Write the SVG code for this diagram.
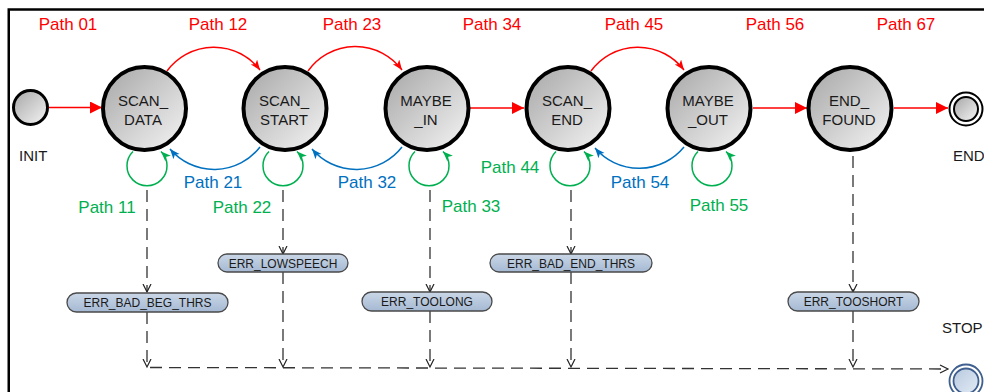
<svg xmlns="http://www.w3.org/2000/svg" width="984" height="392" viewBox="0 0 984 392">
<style>
text{font-family:"Liberation Sans",Arial,sans-serif}
.st{fill:url(#gNode);stroke:#000;stroke-width:4}
.nl{font-size:15px;fill:#1a1a1a;text-anchor:middle}
.lb{font-size:15px;fill:#1a1a1a}
.pr{font-size:17px;fill:#ff0000;text-anchor:middle}
.pb{font-size:17px;fill:#0070c0;text-anchor:middle}
.pg{font-size:17px;fill:#00b050;text-anchor:middle}
.red{fill:none;stroke:#ff0000;stroke-width:1.5}
.blue{fill:none;stroke:#0070c0;stroke-width:1.5}
.green{fill:none;stroke:#00b050;stroke-width:1.5}
.dash{fill:none;stroke:#333;stroke-width:1.3;stroke-dasharray:12 7}
.err{fill:url(#gErr);stroke:#4a4a4a;stroke-width:1.3}
.et{font-size:12px;fill:#1a1a1a;text-anchor:middle}
</style>
<defs>
<linearGradient id="gNode" x1="0" y1="0" x2="1" y2="1">
<stop offset="0" stop-color="#a6a6a6"/>
<stop offset="1" stop-color="#f5f5f5"/>
</linearGradient>
<linearGradient id="gErr" x1="0" y1="0" x2="0" y2="1">
<stop offset="0" stop-color="#cad7e7"/>
<stop offset="1" stop-color="#a5b9d3"/>
</linearGradient>
<linearGradient id="gStop" x1="0" y1="0" x2="1" y2="1">
<stop offset="0" stop-color="#b7c9df"/>
<stop offset="1" stop-color="#e3ebf5"/>
</linearGradient>
<marker id="mRedBig" markerUnits="userSpaceOnUse" markerWidth="13" markerHeight="13" refX="12" refY="6" orient="auto">
<path d="M0,0 L12,6 L0,12 z" fill="#ff0000"/>
</marker>
<marker id="mRed" markerUnits="userSpaceOnUse" markerWidth="11" markerHeight="9" refX="10" refY="4" orient="auto">
<path d="M0,0 L10,4 L0,8 L2.5,4 z" fill="#ff0000"/>
</marker>
<marker id="mBlue" markerUnits="userSpaceOnUse" markerWidth="11" markerHeight="9" refX="10" refY="4" orient="auto">
<path d="M0,0 L10,4 L0,8 L2.5,4 z" fill="#0070c0"/>
</marker>
<marker id="mGreen" markerUnits="userSpaceOnUse" markerWidth="11" markerHeight="9" refX="10" refY="4" orient="auto">
<path d="M0,0 L10,4 L0,8 L2.5,4 z" fill="#00b050"/>
</marker>
<marker id="mOpen" markerUnits="userSpaceOnUse" markerWidth="10" markerHeight="10" refX="8.5" refY="4.5" orient="auto">
<path d="M0.5,0.5 L8.5,4.5 L0.5,8.5" fill="none" stroke="#222" stroke-width="1.2"/>
</marker>
</defs>

<rect x="8.75" y="9.5" width="1000" height="400" fill="#fff" stroke="#000" stroke-width="2.5"/>

<g id="connectors">
<line class="red" x1="49" y1="107.5" x2="102" y2="107.5" marker-end="url(#mRedBig)"/>
<path class="red" d="M167,71 A58 58 0 0 1 260,70" marker-end="url(#mRed)"/>
<path class="red" d="M308,71 A58 58 0 0 1 402,70" marker-end="url(#mRed)"/>
<line class="red" x1="470" y1="108" x2="524" y2="108" marker-end="url(#mRedBig)"/>
<path class="red" d="M591,71 A58 58 0 0 1 684,70" marker-end="url(#mRed)"/>
<line class="red" x1="753" y1="108" x2="807" y2="108" marker-end="url(#mRedBig)"/>
<line class="red" x1="894" y1="108" x2="948" y2="108" marker-end="url(#mRedBig)"/>
<path class="blue" d="M260,147 A58 58 0 0 1 170,149" marker-end="url(#mBlue)"/>
<path class="blue" d="M402,147 A58 58 0 0 1 312,149" marker-end="url(#mBlue)"/>
<path class="blue" d="M684,147 A58 58 0 0 1 595,148" marker-end="url(#mBlue)"/>
<path class="green" d="M133,151.5 A20 20 0 1 0 161,151.5" marker-end="url(#mGreen)"/>
<path class="green" d="M269,151.5 A20 20 0 1 0 297,151.5" marker-end="url(#mGreen)"/>
<path class="green" d="M415,151.5 A20 20 0 1 0 443,151.5" marker-end="url(#mGreen)"/>
<path class="green" d="M556,151.5 A20 20 0 1 0 584,151.5" marker-end="url(#mGreen)"/>
<path class="green" d="M698,151.5 A20 20 0 1 0 726,151.5" marker-end="url(#mGreen)"/>
<line class="dash" x1="147" y1="190" x2="147" y2="292" marker-end="url(#mOpen)"/>
<line class="dash" x1="147" y1="312" x2="147" y2="367" marker-end="url(#mOpen)"/>
<line class="dash" x1="283" y1="190" x2="283" y2="254" marker-end="url(#mOpen)"/>
<line class="dash" x1="283" y1="272" x2="283" y2="367" marker-end="url(#mOpen)"/>
<line class="dash" x1="430" y1="190" x2="430" y2="292" marker-end="url(#mOpen)"/>
<line class="dash" x1="430" y1="311" x2="430" y2="367" marker-end="url(#mOpen)"/>
<line class="dash" x1="571" y1="190" x2="571" y2="254" marker-end="url(#mOpen)"/>
<line class="dash" x1="571" y1="272" x2="571" y2="367" marker-end="url(#mOpen)"/>
<line class="dash" x1="853" y1="156" x2="853" y2="292" marker-end="url(#mOpen)"/>
<line class="dash" x1="853" y1="311" x2="853" y2="367" marker-end="url(#mOpen)"/>
<line class="dash" x1="150" y1="367.5" x2="948" y2="369" marker-end="url(#mOpen)"/>
</g>

<g id="labels">
<text class="pr" x="68" y="30">Path 01</text>
<text class="pr" x="218" y="30">Path 12</text>
<text class="pr" x="352" y="30">Path 23</text>
<text class="pr" x="492" y="30">Path 34</text>
<text class="pr" x="634" y="30">Path 45</text>
<text class="pr" x="775" y="30">Path 56</text>
<text class="pr" x="906" y="30">Path 67</text>
<text class="pb" x="213" y="188">Path 21</text>
<text class="pb" x="367" y="188">Path 32</text>
<text class="pb" x="640" y="188">Path 54</text>
<text class="pg" x="107" y="213">Path 11</text>
<text class="pg" x="242" y="213">Path 22</text>
<text class="pg" x="471" y="212">Path 33</text>
<text class="pg" x="510" y="173">Path 44</text>
<text class="pg" x="719" y="211">Path 55</text>
</g>

<g id="INIT">
<circle cx="30.5" cy="107.5" r="17" fill="url(#gNode)" stroke="#000" stroke-width="3"/>
<text class="lb" x="19" y="161">INIT</text>
</g>
<g id="SCAN_DATA">
<circle class="st" cx="144.5" cy="108.5" r="41.5"/>
<text class="nl" x="143" y="106">SCAN_</text>
<text class="nl" x="143" y="125">DATA</text>
</g>
<g id="SCAN_START">
<circle class="st" cx="285" cy="108.5" r="41.5"/>
<text class="nl" x="284" y="106">SCAN_</text>
<text class="nl" x="284" y="125">START</text>
</g>
<g id="MAYBE_IN">
<circle class="st" cx="427" cy="108.5" r="41.5"/>
<text class="nl" x="426" y="106">MAYBE</text>
<text class="nl" x="426" y="125">_IN</text>
</g>
<g id="SCAN_END">
<circle class="st" cx="568" cy="108.5" r="41.5"/>
<text class="nl" x="567" y="106">SCAN_</text>
<text class="nl" x="567" y="125">END</text>
</g>
<g id="MAYBE_OUT">
<circle class="st" cx="709" cy="108.5" r="41.5"/>
<text class="nl" x="708" y="106">MAYBE</text>
<text class="nl" x="708" y="125">_OUT</text>
</g>
<g id="END_FOUND">
<circle class="st" cx="850" cy="108.5" r="41.5"/>
<text class="nl" x="849" y="106">END_</text>
<text class="nl" x="849" y="125">FOUND</text>
</g>
<g id="END">
<circle cx="966" cy="109" r="16.5" fill="#fff" stroke="#000" stroke-width="2"/>
<circle cx="966" cy="109" r="12" fill="url(#gNode)" stroke="#000" stroke-width="2"/>
<text class="lb" x="953" y="161">END</text>
</g>
<g id="STOP">
<circle cx="966" cy="381" r="16.5" fill="#fff" stroke="#3f5f8f" stroke-width="1.8"/>
<circle cx="966" cy="381" r="12.5" fill="url(#gStop)" stroke="#3f5f8f" stroke-width="1.8"/>
<text class="lb" x="942" y="333">STOP</text>
</g>

<g id="ERR_BAD_BEG_THRS">
<rect class="err" x="67" y="293" width="161" height="19" rx="9.5"/>
<text class="et" x="147.5" y="307">ERR_BAD_BEG_THRS</text>
</g>
<g id="ERR_LOWSPEECH">
<rect class="err" x="218" y="254" width="130" height="18" rx="9"/>
<text class="et" x="283" y="267.5">ERR_LOWSPEECH</text>
</g>
<g id="ERR_TOOLONG">
<rect class="err" x="362" y="292" width="130" height="19" rx="9.5"/>
<text class="et" x="427" y="306">ERR_TOOLONG</text>
</g>
<g id="ERR_BAD_END_THRS">
<rect class="err" x="490" y="254" width="162" height="18" rx="9"/>
<text class="et" x="571" y="267.5">ERR_BAD_END_THRS</text>
</g>
<g id="ERR_TOOSHORT">
<rect class="err" x="788" y="292" width="131" height="19" rx="9.5"/>
<text class="et" x="853.5" y="306">ERR_TOOSHORT</text>
</g>
</svg>
